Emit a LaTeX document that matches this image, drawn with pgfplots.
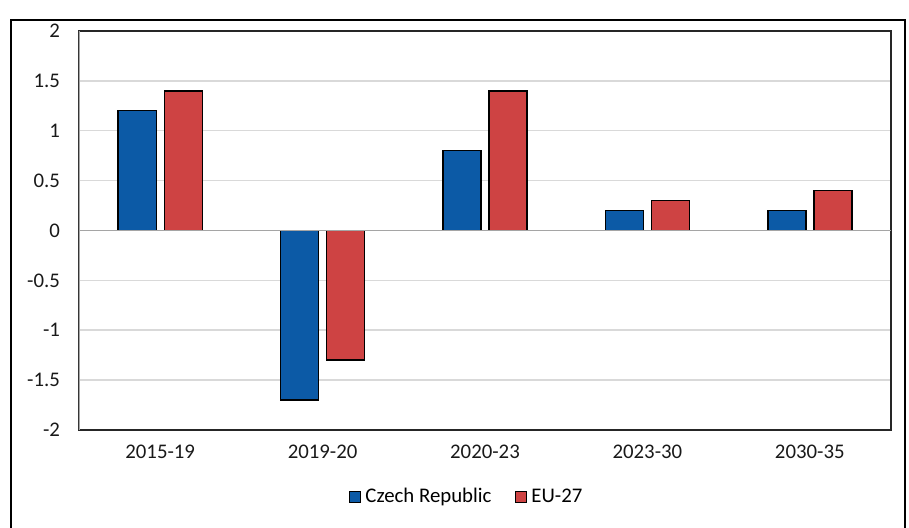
\documentclass[border=0pt]{standalone}
\usepackage{pgfplots}
\pgfplotsset{compat=1.18}
\usepackage{fontspec}
\setmainfont{Carlito}
\definecolor{czblue}{RGB}{12,90,166}
\definecolor{eured}{RGB}{206,67,67}
\definecolor{gridgray}{RGB}{217,217,217}
\definecolor{axgray}{RGB}{165,165,165}
\begin{document}
\begin{tikzpicture}
\path[use as bounding box] (0,0) rectangle (454.5pt,264pt);
\draw[black, line width=1pt] (5.5pt,0) -- (5.5pt,254pt) -- (452.5pt,254pt) -- (452.5pt,0);
\begin{axis}[
 at={(39.5pt,49pt)}, anchor=south west,
 scale only axis, width=406pt, height=199.5pt,
 ybar=4pt, bar width=19pt,
 xmin=-0.5, xmax=4.5, ymin=-2, ymax=2,
 xtick={0,...,4}, xticklabels={2015-19,2019-20,2020-23,2023-30,2030-35},
 ytick={-2,-1.5,...,2}, yticklabels={-2,-1.5,-1,-0.5,0,0.5,1,1.5,2},
 major tick length=0pt,
 ymajorgrids, grid style={gridgray, line width=0.75pt},
 axis line style={black!85, line width=0.6pt},
 tick label style={font=\fontsize{10.4}{12}\selectfont, text=black!90},
 yticklabel style={xshift=-6pt},
 xticklabel style={yshift=-4pt},
 legend style={at={(0.479,-0.168)}, anchor=center, draw=none, fill=none,
   font=\fontsize{10.4}{12}\selectfont, legend columns=2,
   /tikz/every even column/.append style={column sep=10pt}},
 legend image code/.code={\draw[#1, line width=0.5pt] (0pt,-2.75pt) rectangle (5.5pt,2.75pt);},
]
\addplot[fill=czblue, draw=black, line width=0.7pt] coordinates {(0,1.2)(1,-1.7)(2,0.8)(3,0.2)(4,0.2)};
\addlegendentry{Czech Republic}
\addplot[fill=eured, draw=black, line width=0.7pt] coordinates {(0,1.4)(1,-1.3)(2,1.4)(3,0.3)(4,0.4)};
\addlegendentry{EU-27}
\draw[axgray, line width=0.8pt] (axis cs:-0.5,0) -- (axis cs:4.5,0);
\draw[axgray, line width=0.8pt] (axis cs:-0.5,-2) -- (axis cs:-0.5,2);
\end{axis}
\end{tikzpicture}
\end{document}
